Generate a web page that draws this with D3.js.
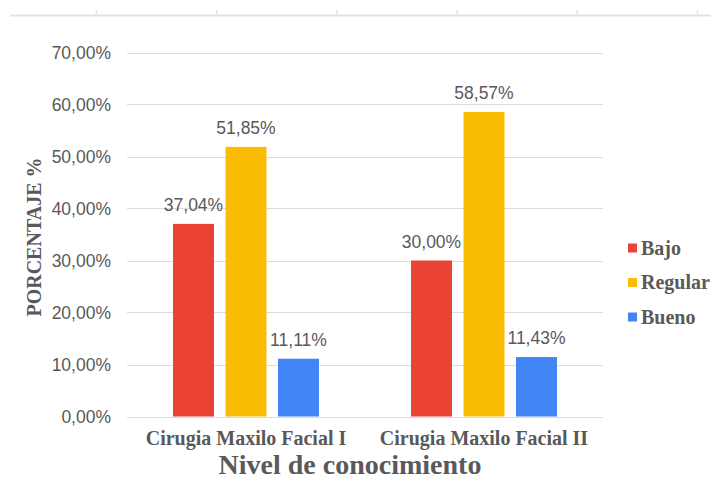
<!DOCTYPE html>
<html><head><meta charset="utf-8">
<script src="https://cdn.jsdelivr.net/npm/d3@7"></script>
<style>body{margin:0;background:#fff}svg{display:block}</style>
</head><body>
<svg id="c" width="711" height="484"></svg>
<script>
const categories = ["Cirugia Maxilo Facial I", "Cirugia Maxilo Facial II"];
const seriesNames = ["Bajo", "Regular", "Bueno"];
const bajo = [0.3704, 0.3000];
const regular = [0.5185, 0.5857];
const bueno = [0.1111, 0.1143];
const yTicks = [0, 0.1, 0.2, 0.3, 0.4, 0.5, 0.6, 0.7];
const colors = ["#EA4335", "#FBBC04", "#4285F4"];
const seriesValues = [bajo, regular, bueno];

const svg = d3.select("#c");
const fmt = v => (v * 100).toFixed(2).replace(".", ",") + "%";
const grey = "#595959";
const sans = "Liberation Sans, Arial, Helvetica, sans-serif";
const serif = "Liberation Serif, Times New Roman, serif";

// spreadsheet column ruler at top
const ruler = svg.append("g");
ruler.append("line").attr("x1", 10).attr("x2", 711).attr("y1", 15.5).attr("y2", 15.5)
  .attr("stroke", "#e3e3e3").attr("stroke-width", 2);
ruler.selectAll("line.t").data(d3.range(0, 6)).join("line").attr("class", "t")
  .attr("x1", i => 96.5 + i * 120.2).attr("x2", i => 96.5 + i * 120.2)
  .attr("y1", 10).attr("y2", 16).attr("stroke", "#e3e3e3").attr("stroke-width", 1.5);

const x0 = d3.scaleBand().domain(categories).range([127, 603]).padding(0);
const x1 = d3.scaleBand().domain(seriesNames).range([46, 192]).paddingInner(0.219).paddingOuter(0);
const y = d3.scaleLinear().domain([0, 0.7]).range([416.5, 52.5]);

// gridlines
svg.append("g").selectAll("line").data(yTicks).join("line")
  .attr("x1", 127).attr("x2", 603)
  .attr("y1", d => Math.round(y(d)) + 0.5).attr("y2", d => Math.round(y(d)) + 0.5)
  .attr("stroke", "#dcdcdc").attr("stroke-width", 1.2);

// y tick labels
svg.append("g").selectAll("text").data(yTicks).join("text")
  .attr("x", 111).attr("y", d => y(d)).attr("dy", "0.35em")
  .attr("text-anchor", "end").attr("fill", grey)
  .attr("font-family", sans).attr("font-size", 17.5)
  .text(fmt);

// bars
const groups = svg.append("g").selectAll("g").data(categories).join("g")
  .attr("transform", d => `translate(${x0(d)},0)`);
groups.each(function(cat, ci) {
  const g = d3.select(this);
  const rows = seriesNames.map((s, si) => ({s, si, v: seriesValues[si][ci]}));
  g.selectAll("rect").data(rows).join("rect")
    .attr("x", d => x1(d.s)).attr("width", x1.bandwidth())
    .attr("y", d => y(d.v)).attr("height", d => y(0) - y(d.v))
    .attr("fill", d => colors[d.si]);
  g.selectAll("text").data(rows).join("text")
    .attr("x", d => x1(d.s) + x1.bandwidth() / 2).attr("y", d => y(d.v) - 13)
    .attr("text-anchor", "middle").attr("fill", grey)
    .attr("font-family", sans).attr("font-size", 17.5)
    .text(d => fmt(d.v));
});

// category labels
svg.append("g").selectAll("text").data(categories).join("text")
  .attr("x", d => x0(d) + x0.bandwidth() / 2).attr("y", 445)
  .attr("text-anchor", "middle").attr("fill", grey)
  .attr("font-family", serif).attr("font-weight", "bold").attr("font-size", 20)
  .text(d => d);

// x title
svg.append("text").attr("x", 350).attr("y", 474).attr("text-anchor", "middle")
  .attr("fill", grey).attr("font-family", serif).attr("font-weight", "bold").attr("font-size", 28)
  .text("Nivel de conocimiento");

// y title
svg.append("text").attr("transform", "translate(41,237) rotate(-90)")
  .attr("text-anchor", "middle").attr("fill", grey)
  .attr("font-family", serif).attr("font-weight", "bold").attr("font-size", 20)
  .text("PORCENTAJE %");

// legend
const leg = svg.append("g").selectAll("g").data(seriesNames).join("g")
  .attr("transform", (d, i) => `translate(628,${248 + i * 34.5})`);
leg.append("rect").attr("x", 0).attr("y", -4.5).attr("width", 9).attr("height", 9)
  .attr("fill", (d, i) => colors[i]);
leg.append("text").attr("x", 13).attr("y", 0).attr("dy", "0.34em").attr("fill", grey)
  .attr("font-family", serif).attr("font-weight", "bold").attr("font-size", 20)
  .text(d => d);
</script>
</body></html>
